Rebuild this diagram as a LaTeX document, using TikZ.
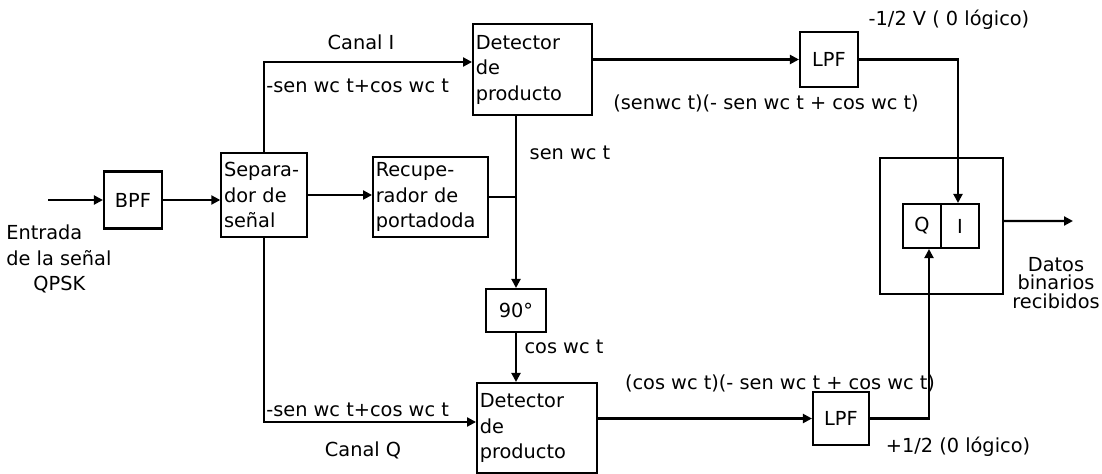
\documentclass[tikz,border=0pt]{standalone}
\usepackage{fontspec}
\setmainfont{DejaVu Sans}
\usetikzlibrary{arrows.meta, positioning, calc}
\definecolor{ink}{HTML}{000000}

\begin{document}
\begin{tikzpicture}[
  x=0.2mm, y=-0.2mm,
  >={Triangle[length=1.8mm, width=1.8mm]},
  every node/.style={font=\fontsize{11}{14.5}\selectfont, text=ink},
  blk/.style={draw=ink, line width=1.2pt, inner sep=0pt, align=center},
  txtblk/.style={draw=ink, line width=1.2pt, inner xsep=1.5pt, inner ysep=0pt, align=left},
  wire/.style={draw=ink, line width=1.2pt},
  lbl/.style={inner sep=0pt},
]

\useasboundingbox (0,0) rectangle (1102,474);

% =============================================
% Blocks
% =============================================
\node[blk, minimum width=11.6mm, minimum height=11.4mm] (bpf) at (133,200) {BPF};
\node[txtblk, text width=16mm, minimum height=16.8mm] (sep) at (264,195) {Separa-\\dor de\\señal};
\node[txtblk, text width=21.9mm, minimum height=16mm] (rec) at (430.5,197) {Recupe-\\rador de\\portadoda};
\node[txtblk, text width=22.7mm, minimum height=18.2mm] (deti) at (532.5,69.5) {Detector\\de\\producto};
\node[blk, minimum width=12mm, minimum height=8.6mm] (nov) at (516,310.5) {90°};
\node[txtblk, text width=22.9mm, minimum height=18mm] (detq) at (537,428) {Detector\\de\\producto};
\node[blk, minimum width=11.6mm, minimum height=11mm] (lpfi) at (829,59.5) {LPF};
\node[blk, minimum width=11.2mm, minimum height=10.6mm] (lpfq) at (841,418.5) {LPF};

% Output register
\node[blk, minimum width=24.6mm, minimum height=27.2mm] (reg) at (941.5,226) {};
\node[blk, minimum width=7.6mm, minimum height=8.8mm] (celq) at (922,226) {Q};
\node[blk, minimum width=7.6mm, minimum height=8.8mm] (celi) at (960,226) {I};

\coordinate (in) at (48,200);
\coordinate (jn) at (516,195);
\coordinate (out) at (1073,221);

% =============================================
% Connections
% =============================================
\draw[wire, ->] (in) -- (bpf);
\draw[wire, ->] (bpf.east) -- (bpf.east -| sep.west);
\draw[wire, ->] (sep.east) -- (sep.east -| rec.west);
\draw[wire] (rec.east) -- (rec.east -| jn);
\draw[wire, ->] (deti.south -| jn) -- (jn |- nov.north);
\draw[wire, ->] (nov.south) -- (nov.south |- detq.north);

% Canal I / Canal Q
\draw[wire, ->] (sep.north) |- ([yshift=1.5mm]deti.west);
\draw[wire, ->] (sep.south) |- ([yshift=1.2mm]detq.west);

\draw[wire, ->] (deti.east |- lpfi) -- (lpfi.west);
\draw[wire, ->] (detq.east |- lpfq) -- (lpfq.west);
\draw[wire, ->] (lpfi.east) -| ([xshift=-0.4mm]celi.north);
\draw[wire, ->] (lpfq.east) -| ([xshift=1.4mm]celq.south);
\draw[wire, ->] ([yshift=1mm]reg.east) -- (out);

% =============================================
% Labels
% =============================================
\node[lbl] (canali) at (361,42) {Canal I};
\node[lbl, anchor=west] (sigi) at (266,86) {-sen wc t+cos wc t};
\node[lbl] (portsen) at (570,153) {sen wc t};
\node[lbl] (prodi) at (766,103) {(senwc t)(- sen wc t + cos wc t)};
\node[lbl] (outi) at (949,20) {-1/2 V ( 0 lógico)};
\node[lbl] (portcos) at (564,347) {cos wc t};
\node[lbl] (prodq) at (780,383) {(cos wc t)(- sen wc t + cos wc t)};
\node[lbl] (outq) at (958,447) {+1/2 (0 lógico)};
\node[lbl, anchor=west] (sigq) at (266,410) {-sen wc t+cos wc t};
\node[lbl] (canalq) at (363,450) {Canal Q};
\node[lbl, align=left, anchor=west] (entrada) at (6,259)
  {Entrada\\de la señal\\\hspace*{1.4em}QPSK};
\node[lbl, align=center, font=\fontsize{11}{10.6}\selectfont] (datos) at (1056,283)
  {Datos\\binarios\\recibidos};

\end{tikzpicture}
\end{document}
